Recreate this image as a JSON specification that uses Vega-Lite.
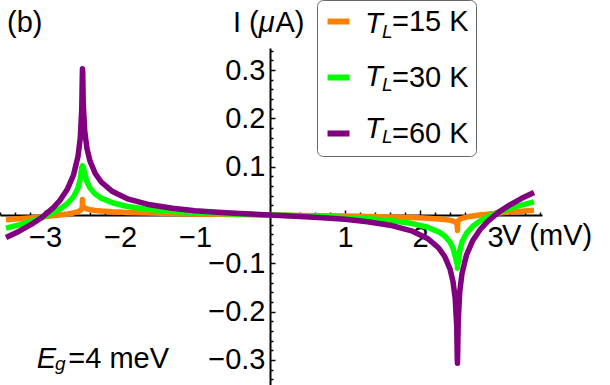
{
  "$schema": "https://vega.github.io/schema/vega-lite/v6.json",
  "width": 542,
  "height": 337,
  "autosize": "none",
  "padding": {"left": 0, "top": 48, "right": 68, "bottom": 0},
  "background": "white",
  "config": {"view": {"stroke": null}, "font": "Liberation Sans", "axis": {"labelOverlap": false}},
  "layer": [
    {
      "data": {"values": [
        {"V":-3.52,"T15":-0.0100,"T30":-0.0271,"T60":-0.0464},
        {"V":-3.35,"T15":-0.0080,"T30":-0.0204,"T60":-0.0340},
        {"V":-3.2,"T15":-0.0061,"T30":-0.0137,"T60":-0.0211},
        {"V":-3.05,"T15":-0.0040,"T30":-0.0059,"T60":-0.0059},
        {"V":-2.9,"T15":-0.0018,"T30":0.0040,"T60":0.0135},
        {"V":-2.8,"T15":0.0000,"T30":0.0124,"T60":0.0305},
        {"V":-2.7,"T15":0.0021,"T30":0.0239,"T60":0.0540},
        {"V":-2.62,"T15":0.0043,"T30":0.0378,"T60":0.0828},
        {"V":-2.56,"T15":0.0069,"T30":0.0561,"T60":0.1212},
        {"V":-2.53,"T15":0.0092,"T30":0.0741,"T60":0.1593},
        {"V":-2.51,"T15":0.0127,"T30":0.0990,"T60":0.2193},
        {"V":-2.503,"T15":0.0164,"T30":0.1000,"T60":0.2847},
        {"V":-2.5,"T15":0.032,"T30":0.102,"T60":0.303},
        {"V":-2.497,"T15":0.0215,"T30":0.1000,"T60":0.2951},
        {"V":-2.49,"T15":0.0179,"T30":0.0990,"T60":0.2312},
        {"V":-2.47,"T15":0.0146,"T30":0.0854,"T60":0.1733},
        {"V":-2.44,"T15":0.0125,"T30":0.0683,"T60":0.1373},
        {"V":-2.4,"T15":0.0110,"T30":0.0559,"T60":0.1116},
        {"V":-2.33,"T15":0.0093,"T30":0.0435,"T60":0.0860},
        {"V":-2.25,"T15":0.0082,"T30":0.0349,"T60":0.0683},
        {"V":-2.1,"T15":0.0067,"T30":0.0253,"T60":0.0486},
        {"V":-1.9,"T15":0.0054,"T30":0.0177,"T60":0.0335},
        {"V":-1.6,"T15":0.0041,"T30":0.0113,"T60":0.0211},
        {"V":-1.3,"T15":0.0031,"T30":0.0075,"T60":0.0138},
        {"V":-1.0,"T15":0.0022,"T30":0.0050,"T60":0.0090},
        {"V":-0.7,"T15":0.0015,"T30":0.0031,"T60":0.0056},
        {"V":-0.4,"T15":0.0009,"T30":0.0017,"T60":0.0030},
        {"V":0,"T15":0,"T30":0,"T60":0},
        {"V":0.4,"T15":-0.0009,"T30":-0.0017,"T60":-0.0030},
        {"V":0.7,"T15":-0.0015,"T30":-0.0031,"T60":-0.0056},
        {"V":1.0,"T15":-0.0022,"T30":-0.0050,"T60":-0.0090},
        {"V":1.3,"T15":-0.0031,"T30":-0.0075,"T60":-0.0138},
        {"V":1.6,"T15":-0.0041,"T30":-0.0113,"T60":-0.0211},
        {"V":1.9,"T15":-0.0054,"T30":-0.0177,"T60":-0.0335},
        {"V":2.1,"T15":-0.0067,"T30":-0.0253,"T60":-0.0486},
        {"V":2.25,"T15":-0.0082,"T30":-0.0349,"T60":-0.0683},
        {"V":2.33,"T15":-0.0093,"T30":-0.0435,"T60":-0.0860},
        {"V":2.4,"T15":-0.0110,"T30":-0.0559,"T60":-0.1116},
        {"V":2.44,"T15":-0.0125,"T30":-0.0683,"T60":-0.1373},
        {"V":2.47,"T15":-0.0146,"T30":-0.0854,"T60":-0.1733},
        {"V":2.49,"T15":-0.0179,"T30":-0.0990,"T60":-0.2312},
        {"V":2.497,"T15":-0.0215,"T30":-0.1000,"T60":-0.2951},
        {"V":2.5,"T15":-0.032,"T30":-0.11,"T60":-0.307},
        {"V":2.503,"T15":-0.0164,"T30":-0.1000,"T60":-0.2847},
        {"V":2.51,"T15":-0.0127,"T30":-0.0990,"T60":-0.2193},
        {"V":2.53,"T15":-0.0092,"T30":-0.0741,"T60":-0.1593},
        {"V":2.56,"T15":-0.0069,"T30":-0.0561,"T60":-0.1212},
        {"V":2.62,"T15":-0.0043,"T30":-0.0378,"T60":-0.0828},
        {"V":2.7,"T15":-0.0021,"T30":-0.0239,"T60":-0.0540},
        {"V":2.8,"T15":0.0000,"T30":-0.0124,"T60":-0.0305},
        {"V":2.9,"T15":0.0018,"T30":-0.0040,"T60":-0.0135},
        {"V":3.05,"T15":0.0040,"T30":0.0059,"T60":0.0059},
        {"V":3.2,"T15":0.0061,"T30":0.0137,"T60":0.0211},
        {"V":3.35,"T15":0.0080,"T30":0.0204,"T60":0.0340},
        {"V":3.52,"T15":0.0100,"T30":0.0271,"T60":0.0464}
      ]},
      "transform": [{"fold": ["T15", "T30", "T60"], "as": ["T", "I"]}],
      "mark": {"type": "line", "strokeWidth": 5.5, "strokeJoin": "round", "strokeCap": "butt", "clip": false},
      "encoding": {
        "x": {
          "field": "V", "type": "quantitative",
          "scale": {"domain": [-3.6, 3.627], "nice": false, "zero": false},
          "axis": {
            "orient": "bottom", "offset": -170, "title": null, "grid": false,
            "values": [-3.6,-3.4,-3.2,-3,-2.8,-2.6,-2.4,-2.2,-2,-1.8,-1.6,-1.4,-1.2,-1,-0.8,-0.6,-0.4,-0.2,0.2,0.4,0.6,0.8,1,1.2,1.4,1.6,1.8,2,2.2,2.4,2.6,2.8,3,3.2,3.4,3.6],
            "tickCount": 500,
            "labelExpr": "abs(datum.value) % 1 == 0 ? format(datum.value, 'd') : ''",
            "domainColor": "black", "domainWidth": 2,
            "tickColor": "black", "tickWidth": 1.5,
            "tickSize": {"condition": {"test": "abs(datum.value) % 1 == 0", "value": -5}, "value": -3},
            "labelFont": "Liberation Sans", "labelFontSize": 29, "labelColor": "black",
            "labelBaseline": "middle", "labelPadding": 27,
            "labelOverlap": false, "labelFlush": false, "labelBound": false
          }
        },
        "y": {
          "field": "I", "type": "quantitative",
          "scale": {"domain": [-0.352, 0.3458], "nice": false, "zero": false},
          "axis": {
            "orient": "left", "offset": -270, "title": null, "grid": false,
            "values": [-0.34,-0.32,-0.3,-0.28,-0.26,-0.24,-0.22,-0.2,-0.18,-0.16,-0.14,-0.12,-0.1,-0.08,-0.06,-0.04,-0.02,0.02,0.04,0.06,0.08,0.1,0.12,0.14,0.16,0.18,0.2,0.22,0.24,0.26,0.28,0.3,0.32,0.34],
            "tickCount": 500,
            "format": ".1f",
            "labelExpr": "abs(round(datum.value*100)) % 10 == 0 ? datum.label : ''",
            "domainColor": "black", "domainWidth": 2,
            "tickColor": "black", "tickWidth": 1.5,
            "tickSize": {"condition": {"test": "abs(round(datum.value*100)) % 10 == 0", "value": -5}, "value": -3},
            "labelFont": "Liberation Sans", "labelFontSize": 29, "labelColor": "black",
            "labelPadding": 10,
            "labelOverlap": false, "labelFlush": false, "labelBound": false
          }
        },
        "color": {
          "field": "T", "type": "nominal",
          "scale": {"domain": ["T15", "T30", "T60"], "range": ["#FF8000", "#00FF00", "#800080"]},
          "legend": {
            "orient": "none", "legendX": 317, "legendY": -48, "direction": "vertical",
            "title": null,
            "labelExpr": "datum.value == 'T15' ? '=15 K' : datum.value == 'T30' ? '=30 K' : '=60 K'",
            "symbolType": "stroke", "symbolStrokeWidth": 6, "symbolSize": 484,
            "labelFont": "Liberation Sans", "labelFontSize": 29, "labelColor": "black",
            "labelOffset": 39, "padding": 7, "rowPadding": 26,
            "strokeColor": "#666666", "cornerRadius": 6
          }
        }
      }
    },
    {
      "data": {"values": [{}]},
      "mark": {"type": "text", "text": ["T", "T", "T"], "lineHeight": 52.5, "font": "Liberation Sans", "fontStyle": "italic", "fontSize": 29, "align": "left", "baseline": "alphabetic", "color": "black"},
      "encoding": {"x": {"datum": 1.2667, "type": "quantitative"}, "y": {"datum": 0.3762, "type": "quantitative"}}
    },
    {
      "data": {"values": [{}]},
      "mark": {"type": "text", "text": ["L", "L", "L"], "lineHeight": 52.5, "font": "Liberation Sans", "fontStyle": "italic", "fontSize": 19, "align": "left", "baseline": "alphabetic", "color": "black"},
      "encoding": {"x": {"datum": 1.4933, "type": "quantitative"}, "y": {"datum": 0.3658, "type": "quantitative"}}
    },
    {
      "data": {"values": [{}]},
      "mark": {"type": "text", "text": "(b)", "font": "Liberation Sans", "fontSize": 29, "align": "left", "baseline": "alphabetic", "color": "black"},
      "encoding": {"x": {"datum": -3.5067, "type": "quantitative"}, "y": {"datum": 0.3795, "type": "quantitative"}}
    },
    {
      "data": {"values": [{}]},
      "mark": {"type": "text", "text": "I (", "font": "Liberation Sans", "fontSize": 29, "align": "left", "baseline": "alphabetic", "color": "black"},
      "encoding": {"x": {"datum": -0.4933, "type": "quantitative"}, "y": {"datum": 0.3795, "type": "quantitative"}}
    },
    {
      "data": {"values": [{}]},
      "mark": {"type": "text", "text": "μ", "font": "Liberation Sans", "fontStyle": "italic", "fontSize": 29, "align": "left", "baseline": "alphabetic", "color": "black"},
      "encoding": {"x": {"datum": -0.1493, "type": "quantitative"}, "y": {"datum": 0.3795, "type": "quantitative"}}
    },
    {
      "data": {"values": [{}]},
      "mark": {"type": "text", "text": "A)", "font": "Liberation Sans", "fontSize": 29, "align": "left", "baseline": "alphabetic", "color": "black"},
      "encoding": {"x": {"datum": 0.0733, "type": "quantitative"}, "y": {"datum": 0.3795, "type": "quantitative"}}
    },
    {
      "data": {"values": [{}]},
      "mark": {"type": "text", "text": "V (mV)", "font": "Liberation Sans", "fontSize": 29, "align": "left", "baseline": "alphabetic", "color": "black"},
      "encoding": {"x": {"datum": 3.0933, "type": "quantitative"}, "y": {"datum": -0.0621, "type": "quantitative"}}
    },
    {
      "data": {"values": [{}]},
      "mark": {"type": "text", "text": "E", "font": "Liberation Sans", "fontStyle": "italic", "fontSize": 29, "align": "left", "baseline": "alphabetic", "color": "black"},
      "encoding": {"x": {"datum": -3.1107, "type": "quantitative"}, "y": {"datum": -0.3174, "type": "quantitative"}}
    },
    {
      "data": {"values": [{}]},
      "mark": {"type": "text", "text": "g", "font": "Liberation Sans", "fontStyle": "italic", "fontSize": 19, "align": "left", "baseline": "alphabetic", "color": "black"},
      "encoding": {"x": {"datum": -2.8667, "type": "quantitative"}, "y": {"datum": -0.3209, "type": "quantitative"}}
    },
    {
      "data": {"values": [{}]},
      "mark": {"type": "text", "text": "=4 meV", "font": "Liberation Sans", "fontSize": 29, "align": "left", "baseline": "alphabetic", "color": "black"},
      "encoding": {"x": {"datum": -2.6893, "type": "quantitative"}, "y": {"datum": -0.3174, "type": "quantitative"}}
    }
  ]
}
